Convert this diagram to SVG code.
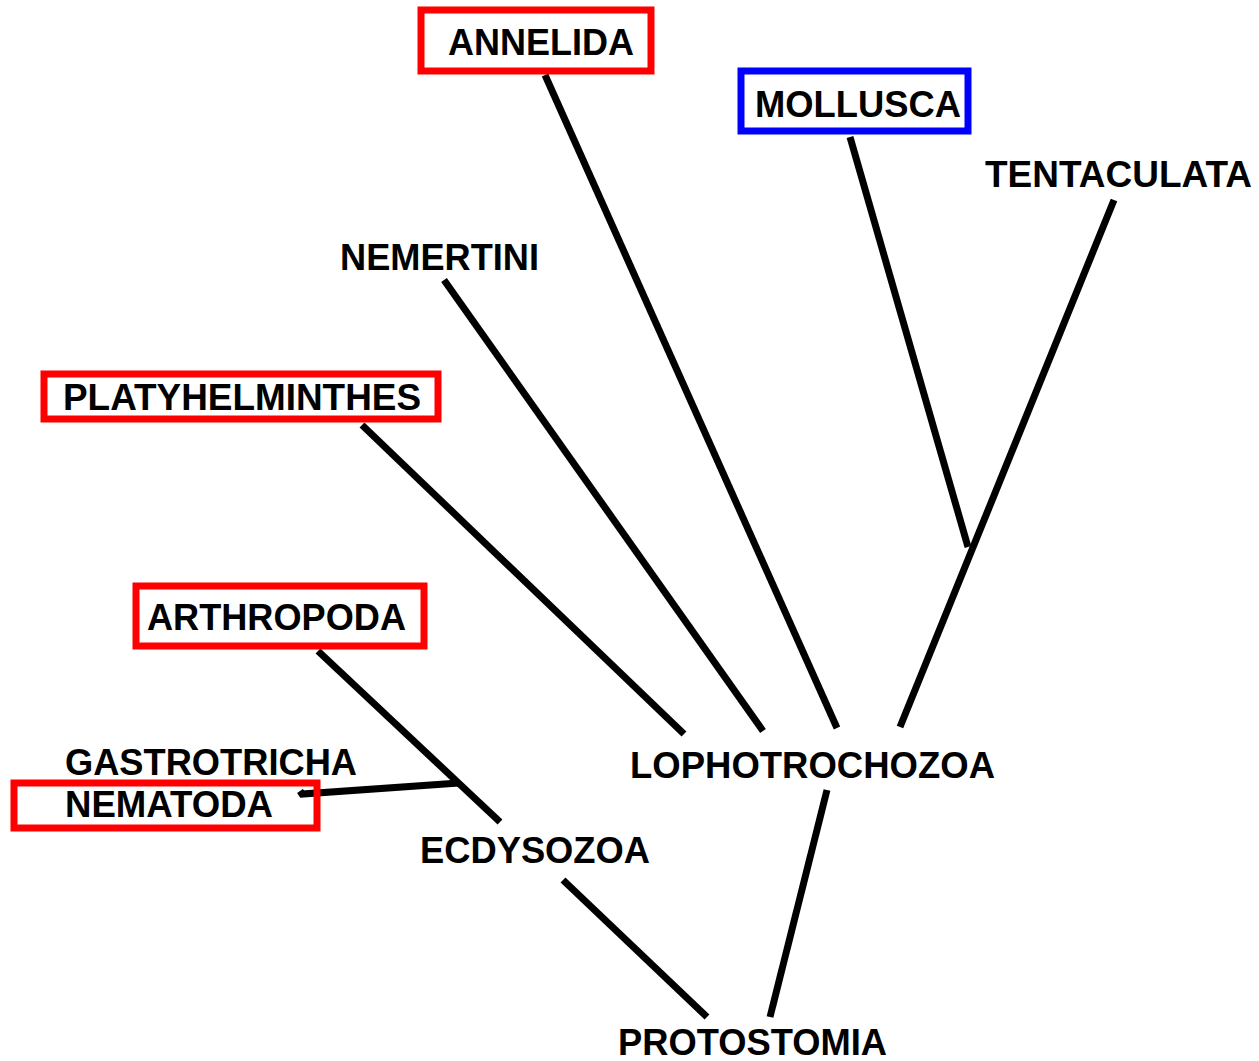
<svg xmlns="http://www.w3.org/2000/svg" width="1259" height="1061" viewBox="0 0 1259 1061">
<style>
text{font-family:"Liberation Sans",Arial,sans-serif;font-weight:bold;font-size:37px;fill:#000}
.red{fill:none;stroke:#ff0000;stroke-width:7}
.blue{fill:none;stroke:#0000ff;stroke-width:7}
.ln{stroke:#000;stroke-width:7;fill:none;stroke-linecap:butt}
</style>
<rect width="1259" height="1061" fill="#ffffff"/>
<g id="connectors">
<line class="ln" x1="545" y1="75" x2="837" y2="728"/>
<line class="ln" x1="850" y1="137" x2="968" y2="547"/>
<line class="ln" x1="1114" y1="200" x2="900" y2="727"/>
<line class="ln" x1="444" y1="280" x2="763" y2="731"/>
<line class="ln" x1="362" y1="425" x2="684" y2="734"/>
<line class="ln" x1="318" y1="651" x2="500" y2="822"/>
<path class="ln" d="M300 791 L302 794 L459 783"/>
<line class="ln" x1="563" y1="880" x2="707" y2="1017"/>
<line class="ln" x1="827" y1="790" x2="770" y2="1017"/>
</g>
<g id="annelida"><rect class="red" x="421" y="10" width="230" height="61"/><text x="448" y="55" textLength="186" lengthAdjust="spacingAndGlyphs">ANNELIDA</text></g>
<g id="mollusca"><rect class="blue" x="741" y="71" width="227" height="60"/><text x="755" y="117" textLength="206" lengthAdjust="spacingAndGlyphs">MOLLUSCA</text></g>
<g id="tentaculata"><text x="985" y="187" textLength="267" lengthAdjust="spacingAndGlyphs">TENTACULATA</text></g>
<g id="nemertini"><text x="340" y="270" textLength="199" lengthAdjust="spacingAndGlyphs">NEMERTINI</text></g>
<g id="platyhelminthes"><rect class="red" x="44" y="374" width="394" height="45"/><text x="63" y="410" textLength="358" lengthAdjust="spacingAndGlyphs">PLATYHELMINTHES</text></g>
<g id="arthropoda"><rect class="red" x="136" y="586" width="288" height="60"/><text x="147" y="630" textLength="259" lengthAdjust="spacingAndGlyphs">ARTHROPODA</text></g>
<g id="gastrotricha"><text x="65" y="775" textLength="292" lengthAdjust="spacingAndGlyphs">GASTROTRICHA</text></g>
<g id="nematoda"><rect class="red" x="14" y="783" width="303" height="45"/><text x="65" y="817" textLength="208" lengthAdjust="spacingAndGlyphs">NEMATODA</text></g>
<g id="ecdysozoa"><text x="420" y="863" textLength="230" lengthAdjust="spacingAndGlyphs">ECDYSOZOA</text></g>
<g id="lophotrochozoa"><text x="630" y="778" textLength="365" lengthAdjust="spacingAndGlyphs">LOPHOTROCHOZOA</text></g>
<g id="protostomia"><text x="618" y="1055" textLength="269" lengthAdjust="spacingAndGlyphs">PROTOSTOMIA</text></g>
</svg>
